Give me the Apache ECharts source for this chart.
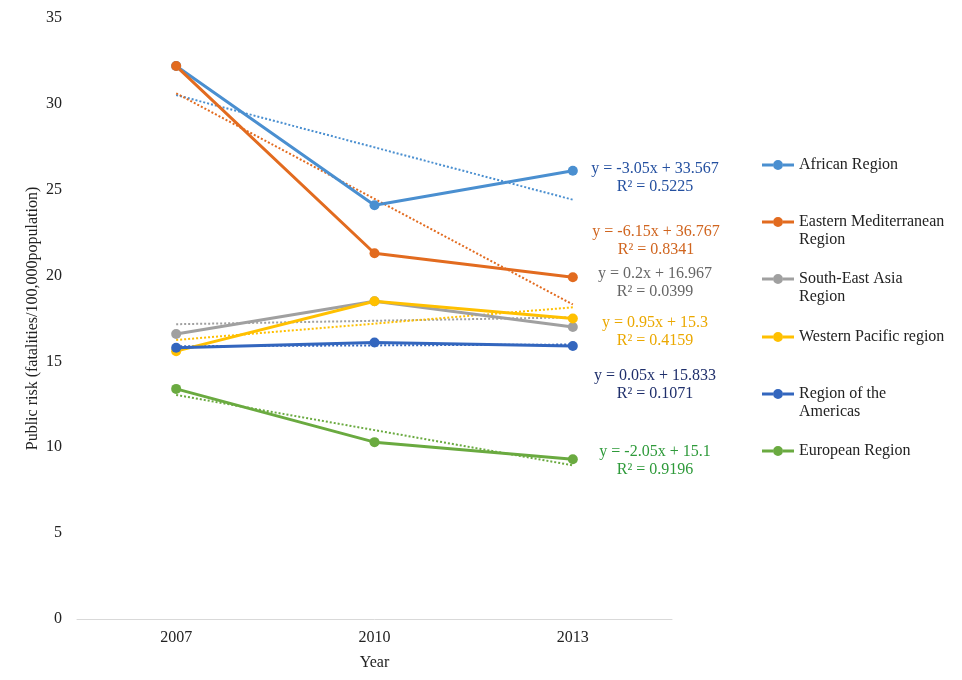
<!DOCTYPE html>
<html>
<head>
<meta charset="utf-8">
<script src="https://cdn.jsdelivr.net/npm/echarts@6/dist/echarts.min.js"></script>
<style>html,body{margin:0;padding:0;background:#fff}#c{width:962px;height:680px}</style>
</head>
<body>
<div id="c"></div>
<script>
const years = ['2007', '2010', '2013'];
const african = [32.2, 24.1, 26.1];
const easternMed = [32.2, 21.3, 19.9];
const seAsia = [16.6, 18.5, 17.0];
const westernPacific = [15.6, 18.5, 17.5];
const americas = [15.8, 16.1, 15.9];
const european = [13.4, 10.3, 9.3];
// trendline values (x = 1, 2, 3)
const africanTrend = [30.517, 27.467, 24.417];
const easternMedTrend = [30.617, 24.467, 18.317];
const seAsiaTrend = [17.167, 17.367, 17.567];
const westernPacificTrend = [16.25, 17.2, 18.15];
const americasTrend = [15.883, 15.933, 15.983];
const europeanTrend = [13.05, 11.0, 8.95];
const equations = [
  ['y = -3.05x + 33.567', 'R² = 0.5225'],
  ['y = -6.15x + 36.767', 'R² = 0.8341'],
  ['y = 0.2x + 16.967', 'R² = 0.0399'],
  ['y = 0.95x + 15.3', 'R² = 0.4159'],
  ['y = 0.05x + 15.833', 'R² = 0.1071'],
  ['y = -2.05x + 15.1', 'R² = 0.9196']
];
const names = ['African Region', 'Eastern Mediterranean Region', 'South-East Asia Region', 'Western Pacific region', 'Region of the Americas', 'European Region'];
const legendLines = [['African Region'], ['Eastern Mediterranean', 'Region'], ['South-East Asia', 'Region'], ['Western Pacific region'], ['Region of the', 'Americas'], ['European Region']];

const colors = ['#4A8FD0', '#E26B1F', '#A0A0A0', '#FFC000', '#3366BE', '#6AAA40'];
const eqColors = ['#2450A0', '#D0651F', '#666666', '#EBA800', '#1F2F6B', '#2E9A3A'];
const values = [african, easternMed, seAsia, westernPacific, americas, european];
const trends = [africanTrend, easternMedTrend, seAsiaTrend, westernPacificTrend, americasTrend, europeanTrend];

const FONT = '"Liberation Serif", "Times New Roman", serif';
const series = [];
trends.forEach((t, i) => {
  series.push({
    name: names[i] + ' trend', type: 'line', data: t, symbol: 'none', silent: true,
    lineStyle: { color: colors[i], width: 2, type: 'dotted' }, z: 1
  });
});
const order = [2, 3, 0, 1, 5, 4];
order.forEach(i => {
  series.push({
    name: names[i], type: 'line', data: values[i], symbol: 'circle', symbolSize: 10,
    itemStyle: { color: colors[i] }, lineStyle: { color: colors[i], width: 3 }, z: 3
  });
});

const ICON = 'path://M0,5.5 L11,5.5 L11,8.5 L0,8.5 Z M21,5.5 L32,5.5 L32,8.5 L21,8.5 Z M11,7 A5,5 0 1 1 21,7 A5,5 0 1 1 11,7 Z';
const legendIconY = [165, 222, 279, 337, 394, 451];
const legends = names.map((n, i) => {
  const twoLine = legendLines[i].length > 1;
  const label = twoLine ? ' \n' + legendLines[i].join('\n') : legendLines[i][0];
  return {
    data: [n], left: 762, top: twoLine ? legendIconY[i] - 27 : legendIconY[i] - 9,
    orient: 'vertical', itemWidth: 32, itemHeight: 14, itemGap: 0, padding: 0,
    icon: ICON, symbolKeepAspect: true,
    formatter: () => label,
    textStyle: { fontFamily: FONT, fontSize: 16, color: '#222', lineHeight: 18 }
  };
});

const eqPos = [[655, 169], [656, 232], [655, 274], [655, 323], [655, 376], [655, 452]];
const graphics = [];
equations.forEach((e, i) => {
  graphics.push({ type: 'text', x: eqPos[i][0], y: eqPos[i][1], style: { text: e[0], fill: eqColors[i], font: '16px ' + FONT, textAlign: 'center', textVerticalAlign: 'middle' } });
  graphics.push({ type: 'text', x: eqPos[i][0], y: eqPos[i][1] + 18, style: { text: e[1], fill: eqColors[i], font: '16px ' + FONT, textAlign: 'center', textVerticalAlign: 'middle' } });
});

const chart = echarts.init(document.getElementById('c'));
chart.setOption({
  animation: false,
  backgroundColor: '#fff',
  color: colors,
  grid: { left: 77, right: 290, top: 18, bottom: 61 },
  legend: legends,
  xAxis: {
    type: 'category', data: years, boundaryGap: true,
    name: 'Year', nameLocation: 'middle', nameGap: 36, nameMoveOverlap: false,
    nameTextStyle: { fontFamily: FONT, fontSize: 16, color: '#222' },
    axisLine: { lineStyle: { color: '#D9D9D9', width: 1 } },
    axisTick: { show: false },
    axisLabel: { fontFamily: FONT, fontSize: 16, color: '#222', margin: 11 }
  },
  yAxis: {
    type: 'value', min: 0, max: 35, interval: 5,
    name: 'Public risk (fatalities/100,000population)', nameLocation: 'middle', nameGap: 36, nameMoveOverlap: false,
    nameTextStyle: { fontFamily: FONT, fontSize: 16, color: '#222' },
    axisLine: { show: false }, axisTick: { show: false }, splitLine: { show: false },
    axisLabel: { fontFamily: FONT, fontSize: 16, color: '#222', margin: 15 }
  },
  series: series,
  graphic: graphics
});
</script>
</body>
</html>
